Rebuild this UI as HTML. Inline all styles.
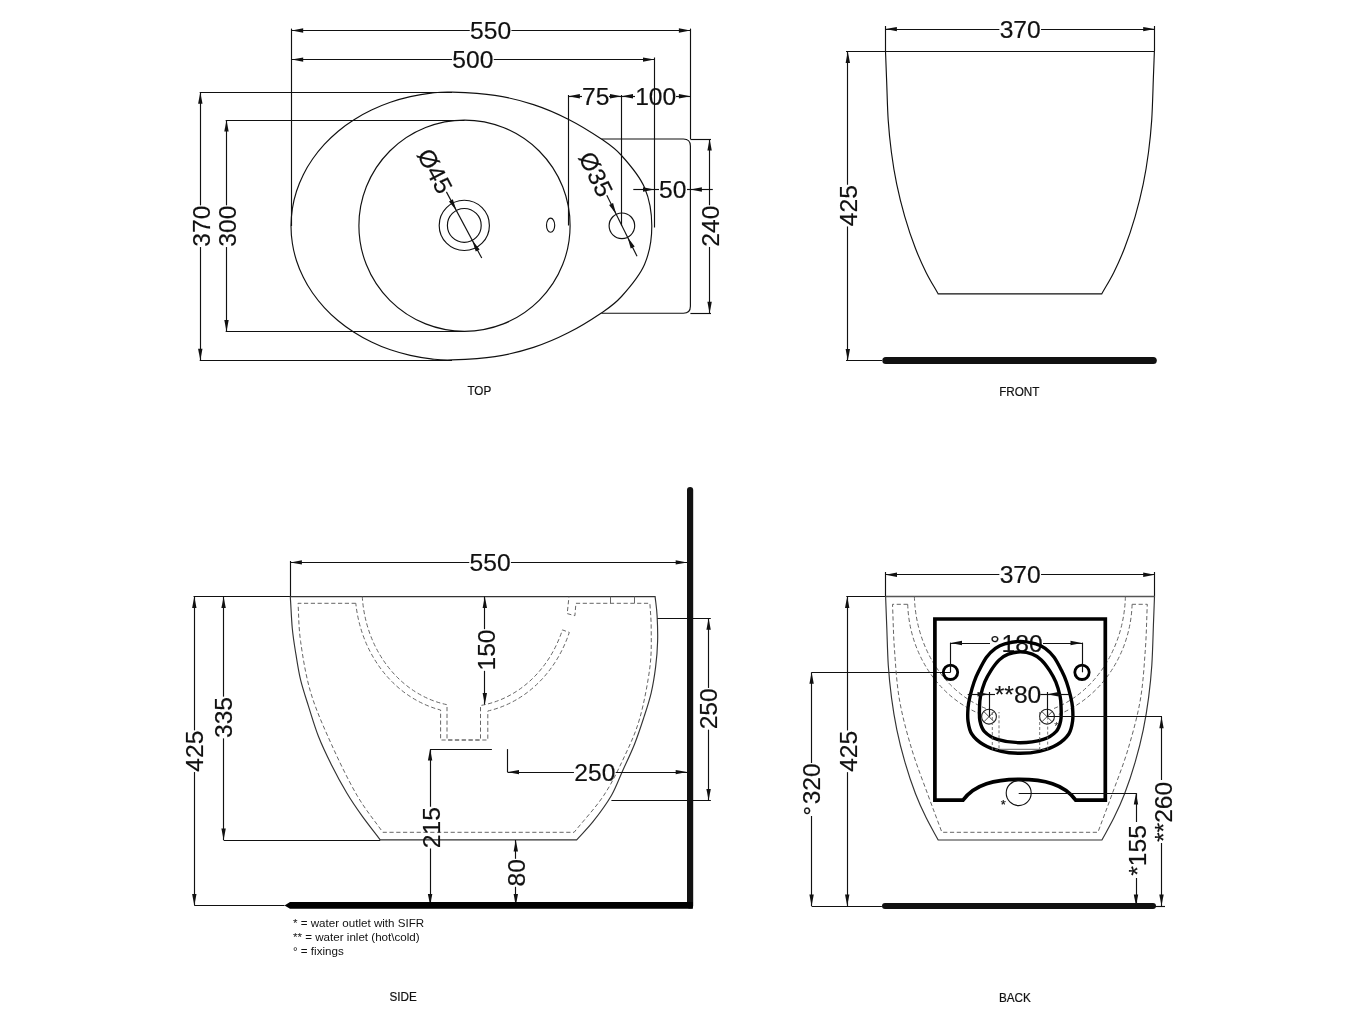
<!DOCTYPE html>
<html><head><meta charset="utf-8"><style>
html,body{margin:0;padding:0;background:#fff;}
svg{display:block;will-change:transform;}
text{font-family:"Liberation Sans",sans-serif;}
</style></head><body>
<svg width="1349" height="1012" viewBox="0 0 1349 1012">
<rect width="1349" height="1012" fill="#fff"/>
<line x1="291.50" y1="28.60" x2="291.50" y2="226.00" stroke="#111" stroke-width="1.15" stroke-linecap="butt"/>
<line x1="690.50" y1="28.60" x2="690.50" y2="139.00" stroke="#111" stroke-width="1.15" stroke-linecap="butt"/>
<line x1="654.50" y1="57.50" x2="654.50" y2="227.50" stroke="#111" stroke-width="1.15" stroke-linecap="butt"/>
<line x1="291.70" y1="30.50" x2="469.75" y2="30.50" stroke="#111" stroke-width="1.15" stroke-linecap="butt"/>
<line x1="511.45" y1="30.50" x2="690.40" y2="30.50" stroke="#111" stroke-width="1.15" stroke-linecap="butt"/>
<path d="M291.70,30.50 L303.20,28.30 L303.20,32.70 Z" fill="#111"/>
<path d="M690.40,30.50 L678.90,32.70 L678.90,28.30 Z" fill="#111"/>
<text transform="translate(490.60,30.50) scale(1.01,1)" x="0" y="8.74" font-size="24.4" text-anchor="middle" fill="#111" stroke="#111" stroke-width="0.18">550</text>
<line x1="291.70" y1="59.50" x2="452.05" y2="59.50" stroke="#111" stroke-width="1.15" stroke-linecap="butt"/>
<line x1="493.75" y1="59.50" x2="654.50" y2="59.50" stroke="#111" stroke-width="1.15" stroke-linecap="butt"/>
<path d="M291.70,59.60 L303.20,57.40 L303.20,61.80 Z" fill="#111"/>
<path d="M654.50,59.60 L643.00,61.80 L643.00,57.40 Z" fill="#111"/>
<text transform="translate(472.90,59.60) scale(1.01,1)" x="0" y="8.74" font-size="24.4" text-anchor="middle" fill="#111" stroke="#111" stroke-width="0.18">500</text>
<line x1="199.70" y1="92.50" x2="452.00" y2="92.50" stroke="#111" stroke-width="1.15" stroke-linecap="butt"/>
<line x1="199.70" y1="360.50" x2="452.00" y2="360.50" stroke="#111" stroke-width="1.15" stroke-linecap="butt"/>
<line x1="200.50" y1="92.20" x2="200.50" y2="205.35" stroke="#111" stroke-width="1.15" stroke-linecap="butt"/>
<line x1="200.50" y1="247.05" x2="200.50" y2="360.20" stroke="#111" stroke-width="1.15" stroke-linecap="butt"/>
<path d="M200.30,92.20 L202.50,103.70 L198.10,103.70 Z" fill="#111"/>
<path d="M200.30,360.20 L198.10,348.70 L202.50,348.70 Z" fill="#111"/>
<text transform="translate(201.20,226.20) rotate(-90) scale(1.01,1)" x="0" y="8.74" font-size="24.4" text-anchor="middle" fill="#111" stroke="#111" stroke-width="0.18">370</text>
<line x1="225.70" y1="120.50" x2="464.50" y2="120.50" stroke="#111" stroke-width="1.15" stroke-linecap="butt"/>
<line x1="225.70" y1="331.50" x2="464.50" y2="331.50" stroke="#111" stroke-width="1.15" stroke-linecap="butt"/>
<line x1="226.50" y1="120.00" x2="226.50" y2="205.35" stroke="#111" stroke-width="1.15" stroke-linecap="butt"/>
<line x1="226.50" y1="247.05" x2="226.50" y2="331.50" stroke="#111" stroke-width="1.15" stroke-linecap="butt"/>
<path d="M226.50,120.00 L228.70,131.50 L224.30,131.50 Z" fill="#111"/>
<path d="M226.50,331.50 L224.30,320.00 L228.70,320.00 Z" fill="#111"/>
<text transform="translate(227.20,226.20) rotate(-90) scale(1.01,1)" x="0" y="8.74" font-size="24.4" text-anchor="middle" fill="#111" stroke="#111" stroke-width="0.18">300</text>
<path d="M452.0,92.1 C462.7,92.5 481.3,93.3 494.9,95.4 C508.5,97.5 521.3,100.6 533.5,104.6 C545.7,108.6 557.0,113.5 568.2,119.2 C579.5,124.9 592.1,132.8 601.0,138.8 C609.9,144.9 614.2,147.4 621.5,155.5 C628.8,163.6 639.5,175.8 644.5,187.5 C649.5,199.2 651.8,213.2 651.8,226.0 C651.8,238.8 649.5,252.8 644.5,264.5 C639.5,276.2 628.8,288.4 621.5,296.5 C614.2,304.6 609.9,307.1 601.0,313.2 C592.1,319.2 579.5,327.1 568.2,332.8 C557.0,338.5 545.7,343.4 533.5,347.4 C521.3,351.4 508.5,354.5 494.9,356.6 C481.3,358.7 462.7,359.5 452.0,359.9 C441.3,360.3 437.9,359.6 431.0,358.9 C424.0,358.1 417.1,356.9 410.3,355.4 C403.6,353.9 396.9,352.0 390.4,349.8 C383.9,347.6 377.6,345.0 371.5,342.0 C365.4,339.1 359.5,335.9 354.0,332.3 C348.4,328.8 343.1,324.9 338.2,320.8 C333.2,316.6 328.5,312.2 324.3,307.6 C320.0,302.9 316.1,298.0 312.6,293.0 C309.1,288.0 305.9,282.7 303.3,277.3 C300.6,271.9 298.3,266.3 296.5,260.7 C294.7,255.1 293.3,249.3 292.4,243.5 C291.5,237.7 291.0,231.8 291.0,226.0 C291.0,220.2 291.5,214.3 292.4,208.5 C293.3,202.7 294.7,196.9 296.5,191.3 C298.3,185.7 300.6,180.1 303.3,174.7 C305.9,169.3 309.1,164.0 312.6,159.0 C316.1,154.0 320.0,149.1 324.3,144.4 C328.5,139.8 333.2,135.4 338.2,131.2 C343.1,127.1 348.4,123.2 354.0,119.7 C359.5,116.1 365.4,112.9 371.5,110.0 C377.6,107.0 383.9,104.4 390.4,102.2 C396.9,100.0 403.6,98.1 410.3,96.6 C417.1,95.1 424.0,93.9 431.0,93.1 C437.9,92.4 441.3,91.7 452.0,92.1 Z" fill="none" stroke="#111" stroke-width="1.15" />
<circle cx="464.5" cy="225.7" r="105.6" fill="none" stroke="#111" stroke-width="1.15"/>
<circle cx="464.3" cy="225.4" r="25.1" fill="none" stroke="#111" stroke-width="1.15"/>
<circle cx="464.3" cy="225.4" r="16.9" fill="none" stroke="#111" stroke-width="1.15"/>
<ellipse cx="550.6" cy="225.2" rx="4.1" ry="7.1" fill="none" stroke="#111" stroke-width="1.15"/>
<circle cx="621.9" cy="225.8" r="12.8" fill="none" stroke="#111" stroke-width="1.15"/>
<line x1="568.50" y1="95.00" x2="568.50" y2="225.50" stroke="#111" stroke-width="1.15" stroke-linecap="butt"/>
<line x1="621.50" y1="95.00" x2="621.50" y2="225.50" stroke="#111" stroke-width="1.15" stroke-linecap="butt"/>
<line x1="568.40" y1="96.50" x2="582.00" y2="96.50" stroke="#111" stroke-width="1.15" stroke-linecap="butt"/>
<line x1="609.00" y1="96.50" x2="621.50" y2="96.50" stroke="#111" stroke-width="1.15" stroke-linecap="butt"/>
<line x1="621.50" y1="96.50" x2="635.00" y2="96.50" stroke="#111" stroke-width="1.15" stroke-linecap="butt"/>
<line x1="676.00" y1="96.50" x2="690.40" y2="96.50" stroke="#111" stroke-width="1.15" stroke-linecap="butt"/>
<path d="M568.40,96.30 L579.90,94.10 L579.90,98.50 Z" fill="#111"/>
<path d="M621.50,96.30 L610.00,98.50 L610.00,94.10 Z" fill="#111"/>
<path d="M621.50,96.30 L633.00,94.10 L633.00,98.50 Z" fill="#111"/>
<path d="M690.40,96.30 L678.90,98.50 L678.90,94.10 Z" fill="#111"/>
<text transform="translate(595.80,96.30) scale(1.01,1)" x="0" y="8.74" font-size="24.4" text-anchor="middle" fill="#111" stroke="#111" stroke-width="0.18">75</text>
<text transform="translate(655.70,96.30) scale(1.01,1)" x="0" y="8.74" font-size="24.4" text-anchor="middle" fill="#111" stroke="#111" stroke-width="0.18">100</text>
<path d="M601.5,139 L683.4,139 Q690.4,139 690.4,146 L690.4,306.2 Q690.4,313.2 683.4,313.2 L601.5,313.2" fill="none" stroke="#111" stroke-width="1.15" />
<line x1="690.40" y1="139.50" x2="711.00" y2="139.50" stroke="#111" stroke-width="1.15" stroke-linecap="butt"/>
<line x1="690.40" y1="313.50" x2="711.00" y2="313.50" stroke="#111" stroke-width="1.15" stroke-linecap="butt"/>
<line x1="709.50" y1="139.00" x2="709.50" y2="205.25" stroke="#111" stroke-width="1.15" stroke-linecap="butt"/>
<line x1="709.50" y1="246.95" x2="709.50" y2="313.20" stroke="#111" stroke-width="1.15" stroke-linecap="butt"/>
<path d="M709.60,139.00 L711.80,150.50 L707.40,150.50 Z" fill="#111"/>
<path d="M709.60,313.20 L707.40,301.70 L711.80,301.70 Z" fill="#111"/>
<text transform="translate(710.20,226.10) rotate(-90) scale(1.01,1)" x="0" y="8.74" font-size="24.4" text-anchor="middle" fill="#111" stroke="#111" stroke-width="0.18">240</text>
<line x1="633.30" y1="189.50" x2="659.00" y2="189.50" stroke="#111" stroke-width="1.15" stroke-linecap="butt"/>
<line x1="687.00" y1="189.50" x2="712.80" y2="189.50" stroke="#111" stroke-width="1.15" stroke-linecap="butt"/>
<path d="M654.50,189.50 L643.00,191.70 L643.00,187.30 Z" fill="#111"/>
<path d="M690.40,189.50 L701.90,187.30 L701.90,191.70 Z" fill="#111"/>
<text transform="translate(672.80,189.50) scale(1.01,1)" x="0" y="8.74" font-size="24.4" text-anchor="middle" fill="#111" stroke="#111" stroke-width="0.18">50</text>
<line x1="446.40" y1="191.88" x2="481.73" y2="258.04" stroke="#111" stroke-width="1.15" stroke-linecap="butt"/>
<path d="M456.34,210.49 L448.98,201.38 L452.86,199.31 Z" fill="#111"/>
<path d="M472.26,240.31 L479.62,249.42 L475.74,251.49 Z" fill="#111"/>
<text transform="translate(435.19,170.88) rotate(61.9) scale(1.01,1)" x="0" y="8.74" font-size="24.4" text-anchor="middle" fill="#111" stroke="#111" stroke-width="0.18">Ø45</text>
<line x1="606.78" y1="195.35" x2="637.02" y2="256.25" stroke="#111" stroke-width="1.15" stroke-linecap="butt"/>
<path d="M616.21,214.33 L609.12,205.01 L613.07,203.06 Z" fill="#111"/>
<path d="M627.59,237.27 L634.68,246.59 L630.73,248.54 Z" fill="#111"/>
<text transform="translate(596.20,174.03) rotate(63.6) scale(1.01,1)" x="0" y="8.74" font-size="24.4" text-anchor="middle" fill="#111" stroke="#111" stroke-width="0.18">Ø35</text>
<text transform="translate(479.30,390.40) scale(0.96,1)" x="0" y="4.45" font-size="12.2" text-anchor="middle" fill="#111" stroke="#111" stroke-width="0.2">TOP</text>
<line x1="885.50" y1="26.00" x2="885.50" y2="51.40" stroke="#111" stroke-width="1.15" stroke-linecap="butt"/>
<line x1="1154.50" y1="26.00" x2="1154.50" y2="51.40" stroke="#111" stroke-width="1.15" stroke-linecap="butt"/>
<line x1="885.40" y1="29.50" x2="999.35" y2="29.50" stroke="#111" stroke-width="1.15" stroke-linecap="butt"/>
<line x1="1041.05" y1="29.50" x2="1154.70" y2="29.50" stroke="#111" stroke-width="1.15" stroke-linecap="butt"/>
<path d="M885.40,29.10 L896.90,26.90 L896.90,31.30 Z" fill="#111"/>
<path d="M1154.70,29.10 L1143.20,31.30 L1143.20,26.90 Z" fill="#111"/>
<text transform="translate(1020.20,29.10) scale(1.01,1)" x="0" y="8.74" font-size="24.4" text-anchor="middle" fill="#111" stroke="#111" stroke-width="0.18">370</text>
<line x1="846.00" y1="51.50" x2="1154.70" y2="51.50" stroke="#111" stroke-width="1.15" stroke-linecap="butt"/>
<line x1="847.50" y1="51.40" x2="847.50" y2="184.75" stroke="#111" stroke-width="1.15" stroke-linecap="butt"/>
<line x1="847.50" y1="226.45" x2="847.50" y2="360.40" stroke="#111" stroke-width="1.15" stroke-linecap="butt"/>
<path d="M847.80,51.40 L850.00,62.90 L845.60,62.90 Z" fill="#111"/>
<path d="M847.80,360.40 L845.60,348.90 L850.00,348.90 Z" fill="#111"/>
<text transform="translate(848.60,205.60) rotate(-90) scale(1.01,1)" x="0" y="8.74" font-size="24.4" text-anchor="middle" fill="#111" stroke="#111" stroke-width="0.18">425</text>
<path d="M885.5,51.2 C885.9,60.8 886.1,68.6 886.6,80.1 C887.1,91.6 887.4,108.1 888.2,120.1 C889.0,132.1 890.0,141.5 891.4,152.2 C892.8,162.9 894.5,173.5 896.7,184.2 C898.9,194.9 901.6,205.6 904.7,216.3 C907.8,227.0 911.8,239.0 915.4,248.3 C919.0,257.6 922.3,264.8 926.1,272.4 C929.9,280.0 934.1,286.7 938.1,293.8  L1101.8000000000002,293.8 C1105.8,286.7 1110.0,280.0 1113.8,272.4 C1117.6,264.8 1120.9,257.6 1124.5,248.3 C1128.1,239.0 1132.1,227.0 1135.2,216.3 C1138.3,205.6 1141.0,194.9 1143.2,184.2 C1145.4,173.5 1147.1,162.9 1148.5,152.2 C1149.9,141.5 1150.9,132.1 1151.7,120.1 C1152.5,108.1 1152.9,91.6 1153.3,80.1 C1153.8,68.6 1154.0,60.8 1154.4,51.2 " fill="none" stroke="#111" stroke-width="1.15" />
<line x1="846.00" y1="360.50" x2="882.00" y2="360.50" stroke="#111" stroke-width="1.15" stroke-linecap="butt"/>
<line x1="885.80" y1="360.40" x2="1153.30" y2="360.40" stroke="#111" stroke-width="7" stroke-linecap="round"/>
<text transform="translate(1019.30,391.60) scale(0.96,1)" x="0" y="4.45" font-size="12.2" text-anchor="middle" fill="#111" stroke="#111" stroke-width="0.2">FRONT</text>
<line x1="290.50" y1="561.00" x2="290.50" y2="596.60" stroke="#111" stroke-width="1.15" stroke-linecap="butt"/>
<line x1="290.40" y1="562.50" x2="469.25" y2="562.50" stroke="#111" stroke-width="1.15" stroke-linecap="butt"/>
<line x1="510.95" y1="562.50" x2="687.20" y2="562.50" stroke="#111" stroke-width="1.15" stroke-linecap="butt"/>
<path d="M290.40,562.40 L301.90,560.20 L301.90,564.60 Z" fill="#111"/>
<path d="M687.20,562.40 L675.70,564.60 L675.70,560.20 Z" fill="#111"/>
<text transform="translate(490.10,562.40) scale(1.01,1)" x="0" y="8.74" font-size="24.4" text-anchor="middle" fill="#111" stroke="#111" stroke-width="0.18">550</text>
<line x1="193.50" y1="596.50" x2="290.40" y2="596.50" stroke="#111" stroke-width="1.15" stroke-linecap="butt"/>
<line x1="194.50" y1="596.60" x2="194.50" y2="730.35" stroke="#111" stroke-width="1.15" stroke-linecap="butt"/>
<line x1="194.50" y1="772.05" x2="194.50" y2="905.40" stroke="#111" stroke-width="1.15" stroke-linecap="butt"/>
<path d="M194.30,596.60 L196.50,608.10 L192.10,608.10 Z" fill="#111"/>
<path d="M194.30,905.40 L192.10,893.90 L196.50,893.90 Z" fill="#111"/>
<text transform="translate(194.30,751.20) rotate(-90) scale(1.01,1)" x="0" y="8.74" font-size="24.4" text-anchor="middle" fill="#111" stroke="#111" stroke-width="0.18">425</text>
<line x1="223.50" y1="596.60" x2="223.50" y2="696.65" stroke="#111" stroke-width="1.15" stroke-linecap="butt"/>
<line x1="223.50" y1="738.35" x2="223.50" y2="840.00" stroke="#111" stroke-width="1.15" stroke-linecap="butt"/>
<path d="M223.60,596.60 L225.80,608.10 L221.40,608.10 Z" fill="#111"/>
<path d="M223.60,840.00 L221.40,828.50 L225.80,828.50 Z" fill="#111"/>
<text transform="translate(223.60,717.50) rotate(-90) scale(1.01,1)" x="0" y="8.74" font-size="24.4" text-anchor="middle" fill="#111" stroke="#111" stroke-width="0.18">335</text>
<line x1="223.60" y1="840.50" x2="380.20" y2="840.50" stroke="#111" stroke-width="1.15" stroke-linecap="butt"/>
<line x1="194.30" y1="905.50" x2="284.50" y2="905.50" stroke="#111" stroke-width="1.15" stroke-linecap="butt"/>
<path d="M290.3,596.6 C291.0,607.2 291.4,618.9 292.3,628.5 C293.2,638.1 294.5,645.6 295.9,654.2 C297.3,662.8 298.5,671.3 300.6,679.9 C302.7,688.5 305.3,696.2 308.3,705.6 C311.3,715.0 314.6,726.6 318.5,736.5 C322.4,746.4 326.7,755.3 331.4,764.7 C336.1,774.1 341.7,784.4 346.8,793.0 C351.9,801.6 356.6,808.3 362.2,816.1 C367.8,823.9 374.2,831.9 380.2,839.8  L576.7,839.8 C582.3,833.6 587.6,828.6 593.4,821.2 C599.2,813.8 606.5,804.0 611.4,795.5 C616.3,787.0 619.1,778.4 623.0,769.9 C626.9,761.4 631.1,752.8 634.5,744.2 C637.9,735.6 640.7,727.1 643.5,718.5 C646.3,709.9 649.2,701.4 651.2,692.8 C653.2,684.2 654.5,675.7 655.6,667.1 C656.7,658.5 657.4,650.0 657.6,641.4 C657.9,632.8 657.5,623.2 657.1,615.7 C656.7,608.2 655.8,603.0 655.1,596.6  Z" fill="none" stroke="#333" stroke-width="1.15" />
<path d="M355.8,603.3 L298,603.3 C298.9,616.0 298.5,626.5 300.6,641.4 C302.7,656.3 305.7,675.7 310.8,692.8 C315.9,709.9 323.7,727.1 331.4,744.2 C339.1,761.3 348.5,780.8 357.1,795.5 C365.7,810.2 374.2,820.0 382.8,832.3  L574.1,832.3 C584.0,820.0 595.4,808.0 603.7,795.5 C612.1,783.0 618.2,769.8 624.2,757.0 C630.2,744.2 635.4,733.5 639.7,718.5 C644.0,703.5 648.0,682.1 649.9,667.1 C651.8,652.1 651.2,639.1 651.2,628.5 C651.2,617.9 650.3,611.7 649.9,603.3  L575.9,603.3 L574.9,615.7 L567.2,613.6 L569,596.6" fill="none" stroke="#666" stroke-width="1" stroke-dasharray="4.2 2.6" />
<line x1="610.50" y1="596.60" x2="610.50" y2="603.30" stroke="#666" stroke-width="1" stroke-linecap="butt"/>
<line x1="634.50" y1="596.60" x2="634.50" y2="603.30" stroke="#666" stroke-width="1" stroke-linecap="butt"/>
<path d="M362.3,596.6 A103.7,117.8 0 0 0 447,704.7 L447,740 L480.5,740 L480.5,705.5 A103.7,117.8 0 0 0 562.4,629.9 L569.3,632.4 A110.2,124.3 0 0 1 487.8,711 L487.8,740 L440.6,740 L440.6,710 A110.2,124.3 0 0 1 355.8,603.3" fill="none" stroke="#666" stroke-width="1" stroke-dasharray="4.2 2.6" />
<line x1="484.50" y1="596.60" x2="484.50" y2="629.15" stroke="#111" stroke-width="1.15" stroke-linecap="butt"/>
<line x1="484.50" y1="670.85" x2="484.50" y2="704.50" stroke="#111" stroke-width="1.15" stroke-linecap="butt"/>
<path d="M484.80,596.60 L487.00,608.10 L482.60,608.10 Z" fill="#111"/>
<path d="M484.80,704.50 L482.60,693.00 L487.00,693.00 Z" fill="#111"/>
<text transform="translate(486.10,650.00) rotate(-90) scale(1.01,1)" x="0" y="8.74" font-size="24.4" text-anchor="middle" fill="#111" stroke="#111" stroke-width="0.18">150</text>
<line x1="430.10" y1="749.50" x2="491.90" y2="749.50" stroke="#111" stroke-width="1.15" stroke-linecap="butt"/>
<line x1="430.50" y1="749.10" x2="430.50" y2="806.75" stroke="#111" stroke-width="1.15" stroke-linecap="butt"/>
<line x1="430.50" y1="848.45" x2="430.50" y2="905.40" stroke="#111" stroke-width="1.15" stroke-linecap="butt"/>
<path d="M430.10,749.10 L432.30,760.60 L427.90,760.60 Z" fill="#111"/>
<path d="M430.10,905.40 L427.90,893.90 L432.30,893.90 Z" fill="#111"/>
<text transform="translate(430.90,827.60) rotate(-90) scale(1.01,1)" x="0" y="8.74" font-size="24.4" text-anchor="middle" fill="#111" stroke="#111" stroke-width="0.18">215</text>
<line x1="507.50" y1="749.10" x2="507.50" y2="772.10" stroke="#111" stroke-width="1.15" stroke-linecap="butt"/>
<line x1="507.50" y1="772.50" x2="573.95" y2="772.50" stroke="#111" stroke-width="1.15" stroke-linecap="butt"/>
<line x1="615.65" y1="772.50" x2="687.20" y2="772.50" stroke="#111" stroke-width="1.15" stroke-linecap="butt"/>
<path d="M507.50,772.10 L519.00,769.90 L519.00,774.30 Z" fill="#111"/>
<path d="M687.20,772.10 L675.70,774.30 L675.70,769.90 Z" fill="#111"/>
<text transform="translate(594.80,772.10) scale(1.01,1)" x="0" y="8.74" font-size="24.4" text-anchor="middle" fill="#111" stroke="#111" stroke-width="0.18">250</text>
<line x1="515.50" y1="840.00" x2="515.50" y2="858.80" stroke="#111" stroke-width="1.15" stroke-linecap="butt"/>
<line x1="515.50" y1="886.80" x2="515.50" y2="905.40" stroke="#111" stroke-width="1.15" stroke-linecap="butt"/>
<path d="M515.80,840.00 L518.00,851.50 L513.60,851.50 Z" fill="#111"/>
<path d="M515.80,905.40 L513.60,893.90 L518.00,893.90 Z" fill="#111"/>
<text transform="translate(516.30,872.80) rotate(-90) scale(1.01,1)" x="0" y="8.74" font-size="24.4" text-anchor="middle" fill="#111" stroke="#111" stroke-width="0.18">80</text>
<line x1="657.40" y1="618.50" x2="710.80" y2="618.50" stroke="#111" stroke-width="1.15" stroke-linecap="butt"/>
<line x1="611.40" y1="800.50" x2="710.90" y2="800.50" stroke="#111" stroke-width="1.15" stroke-linecap="butt"/>
<line x1="708.50" y1="618.20" x2="708.50" y2="687.95" stroke="#111" stroke-width="1.15" stroke-linecap="butt"/>
<line x1="708.50" y1="729.65" x2="708.50" y2="800.40" stroke="#111" stroke-width="1.15" stroke-linecap="butt"/>
<path d="M708.60,618.20 L710.80,629.70 L706.40,629.70 Z" fill="#111"/>
<path d="M708.60,800.40 L706.40,788.90 L710.80,788.90 Z" fill="#111"/>
<text transform="translate(708.00,708.80) rotate(-90) scale(1.01,1)" x="0" y="8.74" font-size="24.4" text-anchor="middle" fill="#111" stroke="#111" stroke-width="0.18">250</text>
<line x1="690.10" y1="490.00" x2="690.10" y2="905.40" stroke="#111" stroke-width="6.2" stroke-linecap="round"/>
<path d="M284.5,905.4 L290,902.1 L692.9,902.1 L692.9,908.7 L290,908.7 Z" fill="#000" stroke="#111" stroke-width="0" />
<text x="293" y="927" font-size="11.6" fill="#111">* = water outlet with SIFR</text>
<text x="293" y="941" font-size="11.6" fill="#111">** = water inlet (hot\cold)</text>
<text x="293" y="955" font-size="11.6" fill="#111">° = fixings</text>
<text transform="translate(403.10,996.50) scale(0.96,1)" x="0" y="4.45" font-size="12.2" text-anchor="middle" fill="#111" stroke="#111" stroke-width="0.2">SIDE</text>
<line x1="885.50" y1="572.00" x2="885.50" y2="596.60" stroke="#111" stroke-width="1.15" stroke-linecap="butt"/>
<line x1="1154.50" y1="572.00" x2="1154.50" y2="596.60" stroke="#111" stroke-width="1.15" stroke-linecap="butt"/>
<line x1="885.50" y1="574.50" x2="999.35" y2="574.50" stroke="#111" stroke-width="1.15" stroke-linecap="butt"/>
<line x1="1041.05" y1="574.50" x2="1154.70" y2="574.50" stroke="#111" stroke-width="1.15" stroke-linecap="butt"/>
<path d="M885.50,574.70 L897.00,572.50 L897.00,576.90 Z" fill="#111"/>
<path d="M1154.70,574.70 L1143.20,576.90 L1143.20,572.50 Z" fill="#111"/>
<text transform="translate(1020.20,574.70) scale(1.01,1)" x="0" y="8.74" font-size="24.4" text-anchor="middle" fill="#111" stroke="#111" stroke-width="0.18">370</text>
<line x1="846.30" y1="596.50" x2="885.50" y2="596.50" stroke="#111" stroke-width="1.15" stroke-linecap="butt"/>
<line x1="885.50" y1="596.50" x2="1154.70" y2="596.50" stroke="#555" stroke-width="1.3" stroke-linecap="butt"/>
<line x1="847.50" y1="596.60" x2="847.50" y2="730.45" stroke="#111" stroke-width="1.15" stroke-linecap="butt"/>
<line x1="847.50" y1="772.15" x2="847.50" y2="906.00" stroke="#111" stroke-width="1.15" stroke-linecap="butt"/>
<path d="M847.20,596.60 L849.40,608.10 L845.00,608.10 Z" fill="#111"/>
<path d="M847.20,906.00 L845.00,894.50 L849.40,894.50 Z" fill="#111"/>
<text transform="translate(848.50,751.30) rotate(-90) scale(1.01,1)" x="0" y="8.74" font-size="24.4" text-anchor="middle" fill="#111" stroke="#111" stroke-width="0.18">425</text>
<line x1="811.60" y1="672.50" x2="950.50" y2="672.50" stroke="#111" stroke-width="1.15" stroke-linecap="butt"/>
<line x1="811.50" y1="672.30" x2="811.50" y2="763.00" stroke="#111" stroke-width="1.15" stroke-linecap="butt"/>
<line x1="811.50" y1="816.00" x2="811.50" y2="906.00" stroke="#111" stroke-width="1.15" stroke-linecap="butt"/>
<path d="M811.60,672.30 L813.80,683.80 L809.40,683.80 Z" fill="#111"/>
<path d="M811.60,906.00 L809.40,894.50 L813.80,894.50 Z" fill="#111"/>
<text transform="translate(811.30,789.50) rotate(-90) scale(1.01,1)" x="0" y="8.74" font-size="24.4" text-anchor="middle" fill="#111" stroke="#111" stroke-width="0.18">°<tspan dx="1.5">320</tspan></text>
<line x1="811.60" y1="906.50" x2="881.90" y2="906.50" stroke="#111" stroke-width="1.15" stroke-linecap="butt"/>
<line x1="885.00" y1="906.00" x2="1153.00" y2="906.00" stroke="#111" stroke-width="6" stroke-linecap="round"/>
<path d="M885.6,596.6 C886.0,606.2 886.2,614.0 886.7,625.5 C887.2,637.0 887.5,653.5 888.3,665.5 C889.1,677.5 890.1,686.9 891.5,697.6 C892.9,708.3 894.6,718.9 896.8,729.6 C899.0,740.3 901.7,751.0 904.8,761.7 C907.9,772.4 911.9,784.4 915.5,793.7 C919.1,803.1 922.4,810.1 926.2,817.8 C930.0,825.5 934.2,832.6 938.2,840.0  L1101.9,840.0 C1105.9,832.6 1110.1,825.5 1113.9,817.8 C1117.7,810.1 1121.0,803.1 1124.6,793.7 C1128.2,784.4 1132.2,772.4 1135.3,761.7 C1138.4,751.0 1141.1,740.3 1143.3,729.6 C1145.5,718.9 1147.2,708.3 1148.6,697.6 C1150.0,686.9 1151.0,677.5 1151.8,665.5 C1152.6,653.5 1153.0,637.0 1153.4,625.5 C1153.9,614.0 1154.1,606.2 1154.5,596.6 " fill="none" stroke="#333" stroke-width="1.15" />
<path d="M907.7,604.3 L892.5,604.3 C893.2,619.5 893.3,634.0 894.5,650.0 C895.7,666.0 896.6,683.3 899.5,700.0 C902.4,716.7 907.2,734.2 912.0,750.0 C916.8,765.8 923.0,781.3 928.0,795.0 C933.0,808.7 937.3,819.9 941.9,832.3  L1097.9,832.3 C1102.5,819.9 1106.8,808.7 1111.8,795.0 C1116.8,781.3 1123.0,765.8 1127.8,750.0 C1132.5,734.2 1137.4,716.7 1140.3,700.0 C1143.2,683.3 1144.1,666.0 1145.3,650.0 C1146.5,634.0 1146.6,619.5 1147.3,604.3  L1132.1,604.3" fill="none" stroke="#666" stroke-width="1" stroke-dasharray="4.2 2.6" />
<path d="M914.4,596.6 A105.7,122.1 0 0 0 988,709.3" fill="none" stroke="#666" stroke-width="1" stroke-dasharray="4.2 2.6" />
<path d="M1125.4,596.6 A105.7,122.1 0 0 1 1051.8,709.3" fill="none" stroke="#666" stroke-width="1" stroke-dasharray="4.2 2.6" />
<path d="M907.7,604.3 A112.5,121.8 0 0 0 981,714.3" fill="none" stroke="#666" stroke-width="1" stroke-dasharray="4.2 2.6" />
<path d="M1132.1,604.3 A112.5,121.8 0 0 1 1058.8,714.3" fill="none" stroke="#666" stroke-width="1" stroke-dasharray="4.2 2.6" />
<path d="M934.9,619 L1105.3,619 L1105.3,800.1 L1075.7,800.1 C1064,784 1044,779.4 1019.5,779.4 C995,779.4 975,784 963,800.1 L934.9,800.1 Z" fill="none" stroke="#000" stroke-width="3.7" />
<circle cx="1018.7" cy="793.1" r="12.5" fill="none" stroke="#111" stroke-width="1.1"/>
<line x1="1018.70" y1="793.50" x2="1136.00" y2="793.50" stroke="#111" stroke-width="1.15" stroke-linecap="butt"/>
<text transform="translate(1003.20,806.00)" x="0" y="2.60" font-size="13" text-anchor="middle" fill="#111" stroke="#111" stroke-width="0.2">*</text>
<circle cx="950.5" cy="672.3" r="7.2" fill="none" stroke="#000" stroke-width="2.8"/>
<circle cx="1082" cy="672.3" r="7.2" fill="none" stroke="#000" stroke-width="2.8"/>
<line x1="950.50" y1="642.60" x2="950.50" y2="672.30" stroke="#111" stroke-width="1.15" stroke-linecap="butt"/>
<line x1="1082.50" y1="642.60" x2="1082.50" y2="672.30" stroke="#111" stroke-width="1.15" stroke-linecap="butt"/>
<line x1="950.50" y1="643.50" x2="990.00" y2="643.50" stroke="#111" stroke-width="1.15" stroke-linecap="butt"/>
<line x1="1043.00" y1="643.50" x2="1082.00" y2="643.50" stroke="#111" stroke-width="1.15" stroke-linecap="butt"/>
<path d="M950.50,643.00 L962.00,640.80 L962.00,645.20 Z" fill="#111"/>
<path d="M1082.00,643.00 L1070.50,645.20 L1070.50,640.80 Z" fill="#111"/>
<text transform="translate(1016.30,643.00) scale(1.01,1)" x="0" y="8.74" font-size="24.4" text-anchor="middle" fill="#111" stroke="#111" stroke-width="0.18">°<tspan dx="1.8">180</tspan></text>
<path d="M1020.3,641.4 C1015.1,641.4 1008.9,642.8 1004.8,643.9 C1000.6,645.0 998.4,646.1 995.4,648.3 C992.4,650.5 989.2,653.5 986.5,657.2 C983.8,660.9 981.1,666.4 979.0,670.6 C976.9,674.8 975.5,677.9 974.0,682.2 C972.5,686.5 971.0,692.1 970.0,696.4 C969.0,700.7 968.3,703.9 968.0,708.0 C967.7,712.1 967.4,716.7 968.0,721.0 C968.6,725.3 969.2,730.1 971.8,734.0 C974.3,737.9 978.4,741.6 983.3,744.5 C988.2,747.4 995.1,749.8 1001.3,751.3 C1007.5,752.8 1014.0,753.3 1020.3,753.3 C1026.6,753.3 1033.1,752.8 1039.3,751.3 C1045.5,749.8 1052.4,747.4 1057.3,744.5 C1062.2,741.6 1066.2,737.9 1068.8,734.0 C1071.3,730.1 1072.0,725.3 1072.6,721.0 C1073.2,716.7 1072.9,712.1 1072.6,708.0 C1072.3,703.9 1071.6,700.7 1070.6,696.4 C1069.6,692.1 1068.1,686.5 1066.6,682.2 C1065.1,677.9 1063.7,674.8 1061.6,670.6 C1059.5,666.4 1056.8,660.9 1054.1,657.2 C1051.4,653.5 1048.2,650.5 1045.2,648.3 C1042.2,646.1 1040.0,645.0 1035.8,643.9 C1031.6,642.8 1025.5,641.4 1020.3,641.4 Z" fill="none" stroke="#000" stroke-width="3.4" />
<path d="M1020.3,651.9 C1016.3,651.9 1011.8,652.8 1008.3,654.1 C1004.8,655.4 1002.2,657.1 999.3,659.9 C996.4,662.6 993.3,666.9 990.9,670.6 C988.5,674.3 986.4,677.9 984.7,682.2 C983.0,686.5 981.4,692.1 980.5,696.4 C979.6,700.7 979.6,704.0 979.5,708.0 C979.4,712.0 979.1,716.8 979.9,720.7 C980.7,724.6 981.4,728.2 984.3,731.3 C987.2,734.4 991.3,737.4 997.3,739.3 C1003.3,741.2 1012.6,742.7 1020.3,742.7 C1028.0,742.7 1037.3,741.2 1043.3,739.3 C1049.3,737.4 1053.4,734.4 1056.3,731.3 C1059.2,728.2 1059.9,724.6 1060.7,720.7 C1061.5,716.8 1061.2,712.0 1061.1,708.0 C1061.0,704.0 1061.0,700.7 1060.1,696.4 C1059.2,692.1 1057.6,686.5 1055.9,682.2 C1054.2,677.9 1052.1,674.3 1049.7,670.6 C1047.3,666.9 1044.2,662.6 1041.3,659.9 C1038.4,657.1 1035.8,655.4 1032.3,654.1 C1028.8,652.8 1024.3,651.9 1020.3,651.9 Z" fill="none" stroke="#000" stroke-width="3.4" />
<circle cx="989" cy="716.7" r="7.4" fill="none" stroke="#222" stroke-width="1.1"/>
<line x1="983.77" y1="711.47" x2="994.23" y2="721.93" stroke="#333" stroke-width="0.9" stroke-linecap="butt"/>
<line x1="983.77" y1="721.93" x2="994.23" y2="711.47" stroke="#333" stroke-width="0.9" stroke-linecap="butt"/>
<circle cx="1047" cy="716.7" r="7.4" fill="none" stroke="#222" stroke-width="1.1"/>
<line x1="1041.77" y1="711.47" x2="1052.23" y2="721.93" stroke="#333" stroke-width="0.9" stroke-linecap="butt"/>
<line x1="1041.77" y1="721.93" x2="1052.23" y2="711.47" stroke="#333" stroke-width="0.9" stroke-linecap="butt"/>
<path d="M992.3,712 L992.3,749.3 L999,749.3 L999,712" fill="none" stroke="#666" stroke-width="0.9" stroke-dasharray="3 2" />
<path d="M1039.7,712 L1039.7,749.3 L1047.7,749.3 L1047.7,712" fill="none" stroke="#666" stroke-width="0.9" stroke-dasharray="3 2" />
<path d="M999,749.3 L1039.7,749.3" fill="none" stroke="#555" stroke-width="0.9" />
<line x1="989.50" y1="692.00" x2="989.50" y2="716.70" stroke="#111" stroke-width="1.15" stroke-linecap="butt"/>
<line x1="1047.50" y1="692.00" x2="1047.50" y2="716.70" stroke="#111" stroke-width="1.15" stroke-linecap="butt"/>
<line x1="967.70" y1="694.50" x2="995.00" y2="694.50" stroke="#111" stroke-width="1.15" stroke-linecap="butt"/>
<line x1="1040.30" y1="694.50" x2="1069.70" y2="694.50" stroke="#111" stroke-width="1.15" stroke-linecap="butt"/>
<path d="M989.00,694.30 L977.50,696.50 L977.50,692.10 Z" fill="#111"/>
<path d="M1047.00,694.30 L1058.50,692.10 L1058.50,696.50 Z" fill="#111"/>
<text transform="translate(1018.00,694.30) scale(1.01,1)" x="0" y="8.74" font-size="24.4" text-anchor="middle" fill="#111" stroke="#111" stroke-width="0.18">**80</text>
<line x1="1047.00" y1="716.50" x2="1162.00" y2="716.50" stroke="#111" stroke-width="1.15" stroke-linecap="butt"/>
<text transform="translate(1056.30,728.00)" x="0" y="2.20" font-size="11" text-anchor="middle" fill="#333">*</text>
<line x1="1136.50" y1="793.10" x2="1136.50" y2="822.00" stroke="#111" stroke-width="1.15" stroke-linecap="butt"/>
<line x1="1136.50" y1="878.00" x2="1136.50" y2="906.00" stroke="#111" stroke-width="1.15" stroke-linecap="butt"/>
<path d="M1136.00,793.10 L1138.20,804.60 L1133.80,804.60 Z" fill="#111"/>
<path d="M1136.00,906.00 L1133.80,894.50 L1138.20,894.50 Z" fill="#111"/>
<text transform="translate(1137.00,850.50) rotate(-90) scale(1.01,1)" x="0" y="8.74" font-size="24.4" text-anchor="middle" fill="#111" stroke="#111" stroke-width="0.18">*155</text>
<line x1="1161.50" y1="716.70" x2="1161.50" y2="780.00" stroke="#111" stroke-width="1.15" stroke-linecap="butt"/>
<line x1="1161.50" y1="843.00" x2="1161.50" y2="906.00" stroke="#111" stroke-width="1.15" stroke-linecap="butt"/>
<path d="M1161.50,716.70 L1163.70,728.20 L1159.30,728.20 Z" fill="#111"/>
<path d="M1161.50,906.00 L1159.30,894.50 L1163.70,894.50 Z" fill="#111"/>
<text transform="translate(1162.90,811.90) rotate(-90) scale(1.01,1)" x="0" y="8.74" font-size="24.4" text-anchor="middle" fill="#111" stroke="#111" stroke-width="0.18">**260</text>
<line x1="1153.00" y1="906.50" x2="1165.00" y2="906.50" stroke="#111" stroke-width="1.15" stroke-linecap="butt"/>
<text transform="translate(1014.90,997.20) scale(0.96,1)" x="0" y="4.45" font-size="12.2" text-anchor="middle" fill="#111" stroke="#111" stroke-width="0.2">BACK</text>
</svg></body></html>
